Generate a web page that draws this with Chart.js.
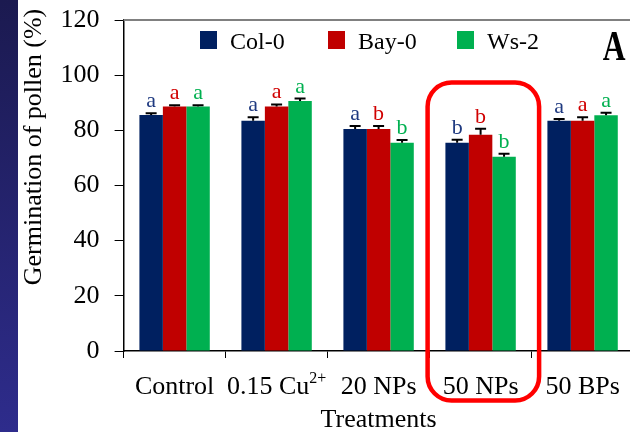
<!DOCTYPE html>
<html>
<head>
<meta charset="utf-8">
<script src="https://cdn.jsdelivr.net/npm/chart.js@4/dist/chart.umd.min.js"></script>
<style>
  html, body { margin: 0; padding: 0; background: #fff; overflow: hidden; width: 630px; height: 432px; }
  #strip { position: absolute; left: 0; top: 0; width: 18px; height: 432px;
           background: linear-gradient(#1b1a50, #2e2c8c); }
  #wrap { position: absolute; left: 0; top: 0; width: 640px; height: 432px; }
</style>
</head>
<body>
<div id="strip"></div>
<div id="wrap"><canvas id="chart" width="640" height="432"></canvas></div>
<script>
// Data
const categories = ["Control", "0.15 Cu²⁺", "20 NPs", "50 NPs", "50 BPs"];
const seriesNames = ["Col-0", "Bay-0", "Ws-2"];
const col0 = [85.6, 83.5, 80.5, 75.5, 83.5];
const bay0 = [88.6, 88.6, 80.5, 78.4, 83.5];
const ws2 = [88.6, 90.6, 75.5, 70.4, 85.5];
const col0Err = [0.6, 1.2, 1.1, 1.1, 0.6];
const bay0Err = [0.5, 0.8, 1.1, 2.2, 1.2];
const ws2Err = [0.5, 0.9, 1.0, 1.1, 0.9];
const col0Sig = ["a", "a", "a", "b", "a"];
const bay0Sig = ["a", "a", "b", "b", "a"];
const ws2Sig = ["a", "a", "b", "b", "a"];
const yMin = 0, yMax = 120, yStep = 20;

const SERIF = '"Liberation Serif", "Times New Roman", serif';
const barColors = ["#002060", "#c00000", "#00b050"];
const letterColors = ["#1f3a80", "#d00000", "#00b050"];

// error bars, letters, legend, labels and the red box
const extras = {
  id: "extras",
  afterDatasetsDraw(chart) {
    const { ctx, chartArea, scales: { x, y } } = chart;
    ctx.save();

    chart.data.datasets.forEach((ds, i) => {
      const meta = chart.getDatasetMeta(i);
      meta.data.forEach((bar, j) => {
        const top = y.getPixelForValue(ds.data[j] + ds.errors[j]);
        ctx.strokeStyle = "#000";
        ctx.lineWidth = 2;
        ctx.beginPath();
        ctx.moveTo(bar.x, bar.y);
        ctx.lineTo(bar.x, top);
        ctx.moveTo(bar.x - 5.5, top);
        ctx.lineTo(bar.x + 5.5, top);
        ctx.stroke();

        ctx.fillStyle = letterColors[i];
        ctx.font = "22px " + SERIF;
        ctx.textAlign = "center";
        ctx.textBaseline = "alphabetic";
        ctx.fillText(ds.letters[j], bar.x, top - 6);
      });
    });

    // top frame line
    ctx.strokeStyle = "#808080";
    ctx.lineWidth = 2;
    ctx.beginPath();
    ctx.moveTo(chartArea.left, chartArea.top);
    ctx.lineTo(chart.width, chartArea.top);
    ctx.stroke();

    // legend
    const legX = [200, 328, 457];
    seriesNames.forEach((name, i) => {
      ctx.fillStyle = barColors[i];
      ctx.fillRect(legX[i], 31, 17, 18);
      ctx.fillStyle = "#000";
      ctx.font = "24px " + SERIF;
      ctx.textAlign = "left";
      ctx.fillText(name, legX[i] + 30, 48.5);
    });

    // panel letter
    ctx.save();
    ctx.translate(614, 60);
    ctx.scale(0.75, 1);
    ctx.font = "bold 42px " + SERIF;
    ctx.textAlign = "center";
    ctx.fillStyle = "#000";
    ctx.fillText("A", 0, 0);
    ctx.restore();

    // x category labels (with superscript)
    ctx.fillStyle = "#000";
    categories.forEach((label, j) => {
      const cx = x.getPixelForValue(j);
      const m = label.match(/^(.*?)([²⁺]+)$/);
      const base = m ? m[1] : label;
      const sup = m ? m[2].replace("²", "2").replace("⁺", "+") : "";
      ctx.font = "26px " + SERIF;
      const wBase = ctx.measureText(base).width;
      ctx.font = "16px " + SERIF;
      const wSup = sup ? ctx.measureText(sup).width : 0;
      const left = cx - (wBase + wSup) / 2;
      ctx.textAlign = "left";
      ctx.font = "26px " + SERIF;
      ctx.fillText(base, left, 393.5);
      if (sup) {
        ctx.font = "16px " + SERIF;
        ctx.fillText(sup, left + wBase, 383);
      }
    });

    // axis titles
    ctx.font = "26px " + SERIF;
    ctx.textAlign = "center";
    ctx.fillText("Treatments", (chartArea.left + chartArea.right) / 2, 427);
    ctx.save();
    ctx.translate(34, 147);
    ctx.rotate(-Math.PI / 2);
    ctx.textBaseline = "middle";
    ctx.fillText("Germination of pollen (%)", 0, 0);
    ctx.restore();

    // red highlight box round 50 NPs
    const c3 = x.getPixelForValue(3);
    ctx.strokeStyle = "#ff0000";
    ctx.lineWidth = 4.5;
    ctx.beginPath();
    ctx.roundRect(c3 - 53, 82.5, 111.5, 318, 24);
    ctx.stroke();

    ctx.restore();
  }
};

new Chart(document.getElementById("chart"), {
  type: "bar",
  data: {
    labels: categories,
    datasets: [
      { label: seriesNames[0], data: col0, errors: col0Err, letters: col0Sig, backgroundColor: barColors[0] },
      { label: seriesNames[1], data: bay0, errors: bay0Err, letters: bay0Sig, backgroundColor: barColors[1] },
      { label: seriesNames[2], data: ws2, errors: ws2Err, letters: ws2Sig, backgroundColor: barColors[2] },
    ],
  },
  options: {
    responsive: false,
    animation: false,
    devicePixelRatio: 1,
    categoryPercentage: 0.69,
    barPercentage: 1.0,
    layout: { padding: { left: 0, right: 6.4, top: 20, bottom: 0 } },
    plugins: { legend: { display: false }, tooltip: { enabled: false } },
    scales: {
      x: {
        afterFit: (s) => { s.height = 81; },
        grid: { drawOnChartArea: false, drawTicks: true, tickLength: 7, color: "#000" },
        border: { color: "#000", width: 1.5 },
        ticks: { display: false },
      },
      y: {
        min: yMin,
        max: yMax,
        afterFit: (s) => { s.width = 123.6; s.paddingTop = 0; s.paddingBottom = 0; },
        grid: { drawOnChartArea: false, drawTicks: true, tickLength: 9, color: "#000" },
        border: { color: "#000", width: 1.5 },
        ticks: {
          stepSize: yStep,
          padding: 15,
          color: "#000",
          font: { family: SERIF, size: 26 },
        },
      },
    },
  },
  plugins: [extras],
});
</script>
</body>
</html>
